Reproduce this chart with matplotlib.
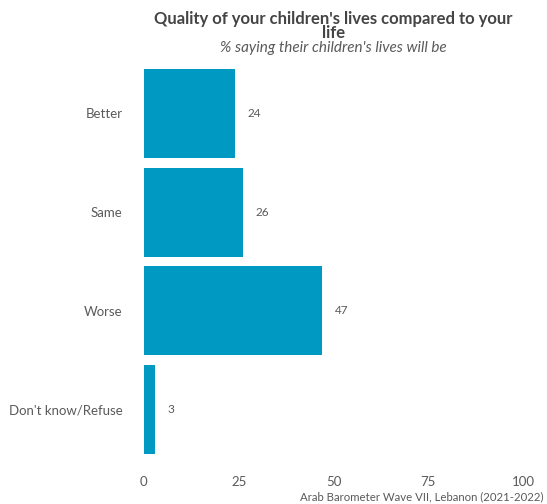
import matplotlib.pyplot as plt

plt.rcParams['font.family'] = ['Lato', 'DejaVu Sans']

categories = ['Better', 'Same', 'Worse', "Don't know/Refuse"]
values = [24, 26, 47, 3]
x_ticks = [0, 25, 50, 75, 100]

bar_color = '#0099C1'
text_color = '#5a5a5a'

W, H = 547, 504
fig = plt.figure(figsize=(W / 100, H / 100), dpi=100)
ax = fig.add_axes([139 / W, 1 - 468.7 / H, (528 - 139) / W, (468.7 - 54.3) / H])

ypos = list(range(len(categories)))
ax.barh(ypos, values, height=0.9, color=bar_color)
ax.set_ylim(len(categories) - 0.4, -0.6)
ax.set_xlim(-1.3, 101.3)

for y, v in zip(ypos, values):
    ax.annotate(str(v), (v, y), xytext=(9, 0), textcoords='offset points',
                va='center', ha='left', fontsize=8.5, color=text_color)

ax.set_yticks(ypos)
ax.set_yticklabels(categories, fontsize=9.5, color=text_color)
ax.set_xticks(x_ticks)
ax.set_xticklabels([str(t) for t in x_ticks], fontsize=9.5, color=text_color)
ax.tick_params(length=0)
ax.tick_params(axis='y', pad=12)
ax.tick_params(axis='x', pad=5)
for s in ax.spines.values():
    s.set_visible(False)

cx = (139 + 528) / 2 / W
fig.text(cx, 1 - 26 / H, "Quality of your children's lives compared to your\nlife",
         ha='center', va='center', fontsize=12, fontweight='bold',
         color='#444444', linespacing=0.8)
fig.text(cx, 1 - 48 / H, "% saying their children's lives will be",
         ha='center', va='center', fontsize=11, style='italic', color=text_color)
fig.text(543 / W, 1 - 497 / H, "Arab Barometer Wave VII, Lebanon (2021-2022)",
         ha='right', va='center', fontsize=8.2, color=text_color)

fig.savefig('out.png', dpi=100)
